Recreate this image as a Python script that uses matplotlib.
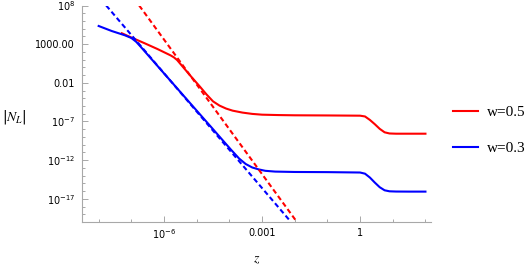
import numpy as np
import matplotlib
matplotlib.use('Agg')
import matplotlib.pyplot as plt
from matplotlib.ticker import FixedLocator, NullFormatter

# 读图得到的数据 (log10 值)
red_logz = [-7.29, -7.0, -6.6, -6.2, -5.8, -5.7, -5.6, -5.5, -5.2, -4.9, -4.7, -4.5,
            -4.3, -4.1, -3.9, -3.6, -3.3, -3.0, -2.5, -2.0, -1.0, 0.0, 0.15, 0.3,
            0.45, 0.6, 0.75, 0.9, 1.1, 1.5, 2.0]
red_logN = [4.41, 3.86, 3.13, 2.37, 1.55, 1.3, 0.95, 0.45, -1.05, -2.5, -3.5, -4.4,
            -4.95, -5.33, -5.6, -5.85, -6.02, -6.12, -6.17, -6.2, -6.22, -6.25, -6.35, -6.8,
            -7.35, -7.95, -8.4, -8.55, -8.58, -8.58, -8.58]

blue_logz = [-8.0, -7.6, -7.2, -7.0, -6.85, -6.7, -6.4, -6.0, -5.5, -5.0, -4.5, -4.2,
             -3.95, -3.7, -3.5, -3.3, -3.1, -2.9, -2.6, -2.0, -1.0, 0.0, 0.15, 0.3,
             0.45, 0.6, 0.75, 0.9, 1.1, 1.5, 2.0]
blue_logN = [5.35, 4.7, 4.15, 3.8, 3.3, 2.6, 1.15, -0.78, -3.19, -5.6, -8.0, -9.45,
             -10.65, -11.8, -12.5, -12.95, -13.2, -13.38, -13.48, -13.53, -13.55, -13.6, -13.75, -14.25,
             -14.9, -15.5, -15.9, -16.03, -16.06, -16.07, -16.07]

# 虚线 (幂律渐近线) 端点
red_dash_logz = [-6.76, -1.96]
red_dash_logN = [8.0, -19.84]
blue_dash_logz = [-7.77, -2.12]
blue_dash_logN = [8.0, -19.97]

labels = ['w=0.5', 'w=0.3']

xtick_exp = [-6, -3, 0]
xtick_labels = [r'$10^{-6}$', '0.001', '1']
ytick_exp = [8, 3, -2, -7, -12, -17]
ytick_labels = [r'$10^{8}$', '1000.00', '0.01', r'$10^{-7}$', r'$10^{-12}$', r'$10^{-17}$']

plt.rcParams['font.family'] = 'DejaVu Sans'
plt.rcParams['mathtext.default'] = 'regular'

fig = plt.figure(figsize=(5.27, 2.65), dpi=100)
ax = fig.add_axes([82 / 527, 43 / 265, 349 / 527, 216.5 / 265])

p = lambda v: 10.0 ** np.array(v)

ax.plot(p(red_logz), p(red_logN), color='#ff0000', lw=1.5, label=labels[0])
ax.plot(p(blue_logz), p(blue_logN), color='#0000ff', lw=1.5, label=labels[1])
ax.plot(p(red_dash_logz), p(red_dash_logN), color='#ff0000', lw=1.5, dashes=[2.4, 1.5])
ax.plot(p(blue_dash_logz), p(blue_dash_logN), color='#0000ff', lw=1.5, dashes=[2.4, 1.5])

ax.set_xscale('log')
ax.set_yscale('log')
ax.set_xlim(10 ** -8.51, 10 ** 2.17)
ax.set_ylim(1e-20, 1e8)

for s in ['top', 'right']:
    ax.spines[s].set_visible(False)
for s in ['left', 'bottom']:
    ax.spines[s].set_color('#a8a8a8')
    ax.spines[s].set_linewidth(0.8)

ax.xaxis.set_major_locator(FixedLocator(p(xtick_exp)))
ax.xaxis.set_minor_locator(FixedLocator(p(range(-8, 3))))
ax.set_xticklabels(xtick_labels)
ax.yaxis.set_major_locator(FixedLocator(p(ytick_exp)))
ax.yaxis.set_minor_locator(FixedLocator(p(range(-20, 9))))
ax.set_yticklabels(ytick_labels)
ax.xaxis.set_minor_formatter(NullFormatter())
ax.yaxis.set_minor_formatter(NullFormatter())

ax.tick_params(which='both', direction='in', color='#a8a8a8', width=0.7, labelsize=7)
ax.tick_params(which='major', length=4)
ax.tick_params(which='minor', length=2.5)
ax.tick_params(axis='x', pad=4)
ax.tick_params(axis='y', pad=5)

ax.set_xlabel(r'$\mathit{z}$', fontsize=10, math_fontfamily='stix')
ax.xaxis.set_label_coords(0.5, -0.173)
ax.xaxis.label.set_va('center')
ax.set_ylabel(r'$|\mathit{N}_{\mathit{L}}|$', fontsize=10, rotation=0, math_fontfamily='stix')
ax.yaxis.set_label_coords(-0.193, 0.485)
ax.yaxis.label.set_va('center')
ax.yaxis.label.set_ha('center')

ax.legend(loc='center left', bbox_to_anchor=(447 / 527, (265 - 130.5) / 265),
          bbox_transform=fig.transFigure, frameon=False,
          prop={'family': 'Liberation Serif', 'size': 11},
          handlelength=1.6, handletextpad=0.6, labelspacing=1.45, borderaxespad=0)

fig.savefig('out.png', dpi=100)
plt.close(fig)
